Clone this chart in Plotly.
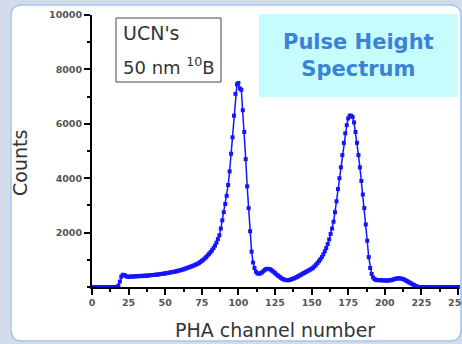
import plotly.graph_objects as go

# ---- data ----
channels = list(range(0, 251))
counts = (
    [0] * 18 +
    [50, 200, 380, 450, 440, 410, 380, 370, 380, 390,      # 18-27
     380, 390, 400, 390, 400, 410, 400, 410, 420, 410,     # 28-37
     420, 430, 430, 440, 440, 450, 450, 460, 470, 480,     # 38-47
     480, 490, 500, 510, 520, 530, 540, 550, 560, 570,     # 48-57
     580, 600, 610, 630, 640, 660, 680, 700, 720, 740,     # 58-67
     760, 780, 800, 830, 850, 880, 920, 960, 1000, 1050,   # 68-77
     1100, 1160, 1220, 1280, 1350, 1430, 1520, 1630, 1760, 1900,  # 78-87
     2150, 2450, 2750, 3050, 3350, 3750, 4250, 4900, 5500, 6300,  # 88-97
     7100, 7450, 7500, 7300, 7250, 6500, 5700, 4700, 3700, 2900,  # 98-107
     2050, 1300, 900, 700, 560, 500, 490, 500, 530, 580,   # 108-117
     630, 660, 670, 660, 640, 600, 560, 510, 460, 420,     # 118-127
     380, 340, 300, 280, 260, 250, 250, 260, 280, 300,     # 128-137
     320, 340, 370, 400, 430, 460, 490, 520, 550, 580,     # 138-147
     610, 640, 670, 710, 760, 820, 880, 950, 1020, 1100,   # 148-157
     1200, 1310, 1430, 1580, 1750, 1950, 2150, 2400, 2750, 3150,  # 158-167
     3600, 4000, 4400, 4850, 5300, 5650, 5950, 6200, 6300, 6300,  # 168-177
     6250, 6050, 5700, 5300, 4850, 4400, 3900, 3400, 2900, 2300,  # 178-187
     1700, 1100, 700, 480, 350, 290, 260, 250, 250, 250,   # 188-197
     250, 240, 240, 240, 240, 240, 250, 260, 280, 300,     # 198-207
     310, 320, 320, 310, 300, 280, 250, 220, 190, 160,     # 208-217
     130, 100, 70, 40, 20] +                               # 218-222
    [0] * 28                                               # 223-250
)
x_ticks = [0, 25, 50, 75, 100, 125, 150, 175, 200, 225, 250]
y_ticks = [2000, 4000, 6000, 8000, 10000]
x_title = "PHA channel number"
y_title = "Counts"

# ---- layout geometry helpers (pixels -> paper) ----
W, H = 462, 344
L, R, T, B = 92, 4, 15, 57
PW, PH = W - L - R, H - T - B


def px(x):
    return (x - L) / PW


def py(y):
    return (H - B - y) / PH


def rounded_rect(x0, y0, x1, y1, r):
    return (f"M {px(x0 + r)},{py(y0)} L {px(x1 - r)},{py(y0)} "
            f"Q {px(x1)},{py(y0)} {px(x1)},{py(y0 + r)} "
            f"L {px(x1)},{py(y1 - r)} Q {px(x1)},{py(y1)} {px(x1 - r)},{py(y1)} "
            f"L {px(x0 + r)},{py(y1)} Q {px(x0)},{py(y1)} {px(x0)},{py(y1 - r)} "
            f"L {px(x0)},{py(y0 + r)} Q {px(x0)},{py(y0)} {px(x0 + r)},{py(y0)} Z")


fig = go.Figure()
fig.add_trace(go.Scatter(
    x=channels, y=counts, mode="lines+markers",
    line=dict(color="#1414ff", width=1.5),
    marker=dict(symbol="square", size=4, color="#1414ff"),
    showlegend=False, cliponaxis=False,
))

tick_font = dict(family="DejaVu Sans", size=9.5, color="#555555", weight="bold")
title_font = dict(family="DejaVu Sans", size=19, color="#333333")

fig.update_layout(
    width=W, height=H,
    template="none",
    margin=dict(l=L, r=R, t=T, b=B, pad=0),
    paper_bgcolor="#d3dcea",
    plot_bgcolor="rgba(0,0,0,0)",
    showlegend=False,
    xaxis=dict(
        range=[0, 250], tickvals=x_ticks, ticktext=[str(v) for v in x_ticks],
        showline=True, linecolor="black", linewidth=2,
        ticks="outside", ticklen=6, tickwidth=2, tickcolor="black",
        minor=dict(ticks="outside", ticklen=3, tickwidth=2, tickcolor="black",
                   dtick=12.5, tick0=0, showgrid=False),
        showgrid=False, zeroline=False, tickfont=tick_font, automargin=False,
        ticklabeloverflow="allow",
    ),
    yaxis=dict(
        range=[0, 10000], tickvals=y_ticks, ticktext=[str(v) for v in y_ticks],
        showline=True, linecolor="black", linewidth=2,
        ticks="outside", ticklen=6, tickwidth=2, tickcolor="black",
        minor=dict(ticks="outside", ticklen=3, tickwidth=2, tickcolor="black",
                   dtick=1000, tick0=0, showgrid=False),
        showgrid=False, zeroline=False, tickfont=tick_font, automargin=False,
        ticklabeloverflow="allow",
    ),
    shapes=[
        dict(type="path", xref="paper", yref="paper", layer="below",
             path=rounded_rect(11, 5, 461, 341, 11),
             fillcolor="white", line=dict(color="#a6c6ee", width=1.5)),
        dict(type="rect", xref="paper", yref="paper", layer="above",
             x0=px(116), x1=px(221), y0=py(18), y1=py(82),
             fillcolor="white", line=dict(color="#444444", width=1)),
        dict(type="rect", xref="paper", yref="paper", layer="above",
             x0=px(259), x1=px(458), y0=py(14), y1=py(97),
             fillcolor="#c6fcfc", line=dict(width=0)),
    ],
    annotations=[
        dict(xref="paper", yref="paper", x=px(275), y=py(330), xanchor="center",
             yanchor="middle", showarrow=False, text=x_title, font=title_font),
        dict(xref="paper", yref="paper", x=px(20), y=py(163), xanchor="center",
             yanchor="middle", showarrow=False, text=y_title, textangle=-90,
             font=title_font),
        dict(xref="paper", yref="paper", x=px(121), y=py(33), xanchor="left",
             yanchor="middle", showarrow=False, align="left",
             text="UCN's", font=dict(family="DejaVu Sans", size=19, color="#333333")),
        dict(xref="paper", yref="paper", x=px(121), y=py(66), xanchor="left",
             yanchor="middle", showarrow=False, align="left",
             text="50 nm <sup>10</sup>B",
             font=dict(family="DejaVu Sans", size=18, color="#333333")),
        dict(xref="paper", yref="paper", x=px(358), y=py(55), xanchor="center",
             yanchor="middle", showarrow=False, align="center",
             text="<b>Pulse Height<br>Spectrum</b>",
             font=dict(family="DejaVu Sans", size=21, color="#3a82d8")),
    ],
)

fig.write_html("out.html",
               config={"displayModeBar": False},
               post_script="document.body.style.margin='0';"
                           "document.body.style.overflow='hidden';")
